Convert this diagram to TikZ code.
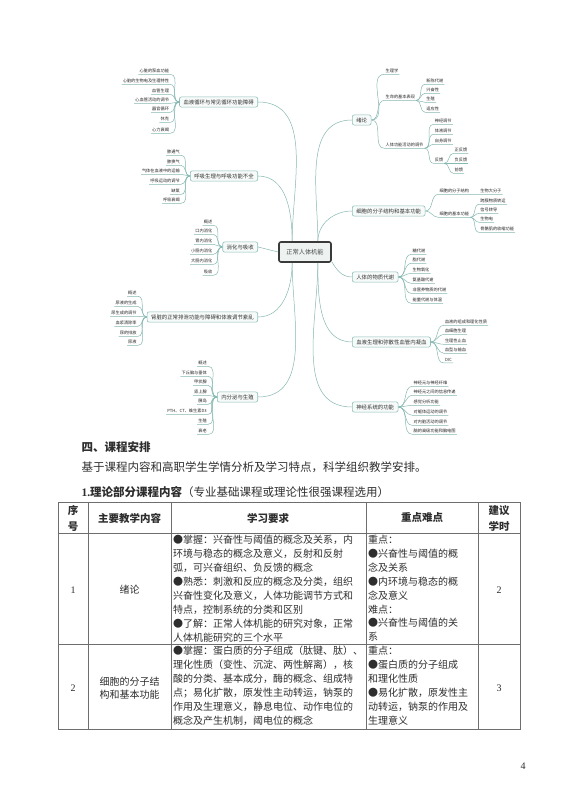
\documentclass[tikz,border=0pt]{standalone}
\usepackage{fontspec}
\setmainfont{Noto Sans CJK SC}
\newfontfamily\tnr{Liberation Serif}
\usepackage{tikz}
\definecolor{linkc}{HTML}{86B8B2}
\definecolor{topicline}{HTML}{8FC1BA}
\definecolor{topicfill}{HTML}{F6FAF9}
\definecolor{hubline}{HTML}{3A3A3A}
\definecolor{hubfill}{HTML}{EEF3F2}
\definecolor{tblline}{HTML}{6E6E6E}
\definecolor{inkc}{HTML}{2E2E2E}

\begin{document}
\begin{tikzpicture}[x=1pt,y=1pt,
  hub/.style={draw=hubline,line width=1.6pt,rounded corners=2pt,fill=hubfill,minimum width=52pt,minimum height=20pt,font=\fontsize{6.2}{7}\selectfont,text=black!70},
  topic/.style={draw=topicline,line width=0.6pt,rounded corners=2pt,fill=topicfill,inner xsep=4pt,inner ysep=2.6pt,font=\fontsize{5.4}{6}\selectfont,text=black!80},
  leaf/.style={inner xsep=1pt,inner ysep=1.2pt,font=\fontsize{4.2}{5}\selectfont,text=black!85},
  leafl/.style={leaf,anchor=east},
  leafr/.style={leaf,anchor=west},
  link/.style={draw=linkc,line width=0.5pt},
  tbl/.style={draw=tblline,line width=0.7pt},
  cell/.style={font=\fontsize{10}{13.9}\selectfont,text=inkc,align=left,inner xsep=2pt,inner ysep=2pt,anchor=north west},
  head/.style={font=\bfseries\fontsize{10.5}{16}\selectfont,text=inkc,align=center},
  mid/.style={font=\fontsize{10}{13}\selectfont,text=inkc,align=center}]
\fill[white] (0,0) rectangle (566,800);
\useasboundingbox (0,0) rectangle (566,800);

% mind map
\node[hub] (ctr) at (305,548) {正常人体机能};
\node[topic,anchor=east] (xh) at (258,698) {血液循环与常见循环功能障碍};
\node[topic,anchor=east] (hx) at (258,624) {呼吸生理与呼吸功能不全};
\node[topic,anchor=east] (xs) at (258,553) {消化与吸收};
\node[topic,anchor=east] (sz) at (258,483) {肾脏的正常排泄功能与障碍和体液调节紊乱};
\node[topic,anchor=east] (nf) at (258,403) {内分泌与生殖};
\node[topic,anchor=west] (xl) at (352,680) {绪论};
\node[topic,anchor=west] (xb) at (352,589) {细胞的分子结构和基本功能};
\node[topic,anchor=west] (wz) at (352,523) {人体的物质代谢};
\node[topic,anchor=west] (xy) at (352,458) {血液生理和弥散性血管内凝血};
\node[topic,anchor=west] (sj) at (352,393) {神经系统的功能};

\draw[link] (ctr.140) to[out=90,in=0] (xh.east);
\draw[link] (ctr.140) to[out=90,in=0] (hx.east);
\draw[link] (ctr.west) -- (xs.east);
\draw[link] (ctr.220) to[out=-90,in=0] (sz.east);
\draw[link] (ctr.220) to[out=-90,in=0] (nf.east);
\draw[link] (ctr.40) to[out=90,in=180] (xl.west);
\draw[link] (ctr.40) to[out=90,in=180] (xb.west);
\draw[link] (ctr.340) to[out=-60,in=180] (wz.west);
\draw[link] (ctr.320) to[out=-90,in=180] (xy.west);
\draw[link] (ctr.320) to[out=-90,in=180] (sj.west);

% left leaves
\foreach \t/\y [count=\i] in {心脏的泵血功能/729,心脏的生物电及生理特性/719,血管生理/709,心血管活动的调节/700,器官循环/691,休克/681,心力衰竭/670} {
  \node[leafl,xshift=-9pt] (xh\i) at (xh.west |- 0,\y) {\t};
  \draw[link] (xh.west) to[out=180,in=0] (xh\i.south east) -- (xh\i.south west);
}
\foreach \t/\y [count=\i] in {肺通气/648,肺换气/638,气体在血液中的运输/629,呼吸运动的调节/619,缺氧/609,呼吸衰竭/600} {
  \node[leafl,xshift=-9pt] (hx\i) at (hx.west |- 0,\y) {\t};
  \draw[link] (hx.west) to[out=180,in=0] (hx\i.south east) -- (hx\i.south west);
}
\foreach \t/\y [count=\i] in {概述/578,口内消化/569,胃内消化/559,小肠内消化/549,大肠内消化/539,吸收/528} {
  \node[leafl,xshift=-9pt] (xs\i) at (xs.west |- 0,\y) {\t};
  \draw[link] (xs.west) to[out=180,in=0] (xs\i.south east) -- (xs\i.south west);
}
\foreach \t/\y [count=\i] in {概述/507,尿液的生成/497,尿生成的调节/487,血浆清除率/477,尿的排放/467,尿液/458} {
  \node[leafl,xshift=-9pt] (sz\i) at (sz.west |- 0,\y) {\t};
  \draw[link] (sz.west) to[out=180,in=0] (sz\i.south east) -- (sz\i.south west);
}
\foreach \t/\y [count=\i] in {概述/437,下丘脑与垂体/427,甲状腺/418,肾上腺/408,胰岛/399,PTH、CT、维生素D3/389,生殖/379,衰老/369} {
  \node[leafl,xshift=-9pt] (nf\i) at (nf.west |- 0,\y) {\t};
  \draw[link] (nf.west) to[out=180,in=0] (nf\i.south east) -- (nf\i.south west);
}

% right leaves
\foreach \t/\y [count=\i] in {生理学/729,生命的基本表现/703,人体功能活动的调节/655} {
  \node[leafr,xshift=13pt] (xl\i) at (xl.east |- 0,\y) {\t};
  \draw[link] (xl.east) to[out=0,in=180] (xl\i.south west) -- (xl\i.south east);
}
\foreach \t/\y [count=\i] in {新陈代谢/719,兴奋性/710,生殖/701,适应性/691} {
  \node[leafr,xshift=9pt] (bx\i) at (xl2.east |- 0,\y) {\t};
  \draw[link] (xl2.south east) to[out=0,in=180] (bx\i.south west) -- (bx\i.south east);
}
\foreach \t/\y [count=\i] in {神经调节/679,体液调节/669,自身调节/659,反馈/640} {
  \node[leafr,xshift=9pt] (tj\i) at (xl3.east |- 0,\y) {\t};
  \draw[link] (xl3.south east) to[out=0,in=180] (tj\i.south west) -- (tj\i.south east);
}
\foreach \t/\y [count=\i] in {正反馈/650,负反馈/640,前馈/630} {
  \node[leafr,xshift=9pt] (fk\i) at (tj4.east |- 0,\y) {\t};
  \draw[link] (tj4.south east) to[out=0,in=180] (fk\i.south west) -- (fk\i.south east);
}
\foreach \t/\y [count=\i] in {细胞的分子结构/609,细胞的基本功能/586} {
  \node[leafr,xshift=13pt] (xb\i) at (xb.east |- 0,\y) {\t};
  \draw[link] (xb.east) to[out=0,in=180] (xb\i.south west) -- (xb\i.south east);
}
\node[leafr,xshift=9pt] (dfz) at (xb1.east |- 0,609) {生物大分子};
\draw[link] (xb1.south east) -- (dfz.south west) -- (dfz.south east);
\foreach \t/\y [count=\i] in {跨膜物质转运/599,信号转导/590,生物电/581,骨骼肌的收缩功能/571} {
  \node[leafr,xshift=9pt] (gn\i) at (xb2.east |- 0,\y) {\t};
  \draw[link] (xb2.south east) to[out=0,in=180] (gn\i.south west) -- (gn\i.south east);
}
\foreach \t/\y [count=\i] in {糖代谢/549,脂代谢/540,生物氧化/530,氨基酸代谢/520,非营养物质的代谢/510,能量代谢与体温/500} {
  \node[leafr,xshift=13pt] (wz\i) at (wz.east |- 0,\y) {\t};
  \draw[link] (wz.east) to[out=0,in=180] (wz\i.south west) -- (wz\i.south east);
}
\foreach \t/\y [count=\i] in {血液的组成和理化性质/478,血细胞生理/469,生理性止血/459,血型与输血/450,DIC/440} {
  \node[leafr,xshift=13pt] (xy\i) at (xy.east |- 0,\y) {\t};
  \draw[link] (xy.east) to[out=0,in=180] (xy\i.south west) -- (xy\i.south east);
}
\foreach \t/\y [count=\i] in {神经元与神经纤维/417,神经元之间的信息传递/408,感觉分析功能/398,对躯体运动的调节/388,对内脏活动的调节/378,脑的高级功能和脑电图/369} {
  \node[leafr,xshift=14pt] (sj\i) at (sj.east |- 0,\y) {\t};
  \draw[link] (sj.east) to[out=0,in=180] (sj\i.south west) -- (sj\i.south east);
}

% text and table
\node[anchor=west,font=\bfseries\fontsize{11.5}{14}\selectfont,text=inkc] (sec) at (78,353) {四、课程安排};
\node[anchor=west,font=\fontsize{11.5}{14}\selectfont,text=inkc] (intro) at (78,333) {基于课程内容和高职学生学情分析及学习特点，科学组织教学安排。};
\node[anchor=west,font=\fontsize{11.5}{14}\selectfont,text=inkc] (sub) at (78,308) {{\tnr\bfseries 1.}{\bfseries 理论部分课程内容}（专业基础课程或理论性很强课程选用）};

\draw[tbl] (58,298) rectangle (520,71);
\foreach \x in {88,171,366,478} {\draw[tbl] (\x,298) -- (\x,71);}
\foreach \y in {267,156} {\draw[tbl] (58,\y) -- (520,\y);}

\node[head] (h1) at (73,282) {序\\号};
\node[head] (h2) at (129.5,282) {主要教学内容};
\node[head] (h3) at (268,282) {学习要求};
\node[head] (h4) at (422,282) {重点难点};
\node[head] (h5) at (499,282) {建议\\学时};

\node[mid] (r1c1) at (73,210) {\tnr 1};
\node[mid] (r1c2) at (129.5,210) {绪论};
\node[cell] (r1c3) at (171,267) {●掌握：兴奋性与阈值的概念及关系，内\\环境与稳态的概念及意义，反射和反射\\弧，可兴奋组织、负反馈的概念\\●熟悉：刺激和反应的概念及分类，组织\\兴奋性变化及意义，人体功能调节方式和\\特点，控制系统的分类和区别\\●了解：正常人体机能的研究对象，正常\\人体机能研究的三个水平};
\node[cell] (r1c4) at (366,267) {重点：\\●兴奋性与阈值的概\\念及关系\\●内环境与稳态的概\\念及意义\\难点：\\●兴奋性与阈值的关\\系};
\node[mid] (r1c5) at (499,210) {\tnr 2};

\node[mid] (r2c1) at (73,112) {\tnr 2};
\node[mid] (r2c2) at (129.5,112) {细胞的分子结\\构和基本功能};
\node[cell] (r2c3) at (171,156) {●掌握：蛋白质的分子组成（肽键、肽）、\\理化性质（变性、沉淀、两性解离），核\\酸的分类、基本成分，酶的概念、组成特\\点；易化扩散，原发性主动转运，钠泵的\\作用及生理意义，静息电位、动作电位的\\概念及产生机制，阈电位的概念};
\node[cell] (r2c4) at (366,156) {重点：\\●蛋白质的分子组成\\和理化性质\\●易化扩散，原发性主\\动转运，钠泵的作用及\\生理意义};
\node[mid] (r2c5) at (499,112) {\tnr 3};

\node[font=\tnr\fontsize{10}{12}\selectfont,text=inkc] (pg) at (523,34) {4};
\end{tikzpicture}
\end{document}
